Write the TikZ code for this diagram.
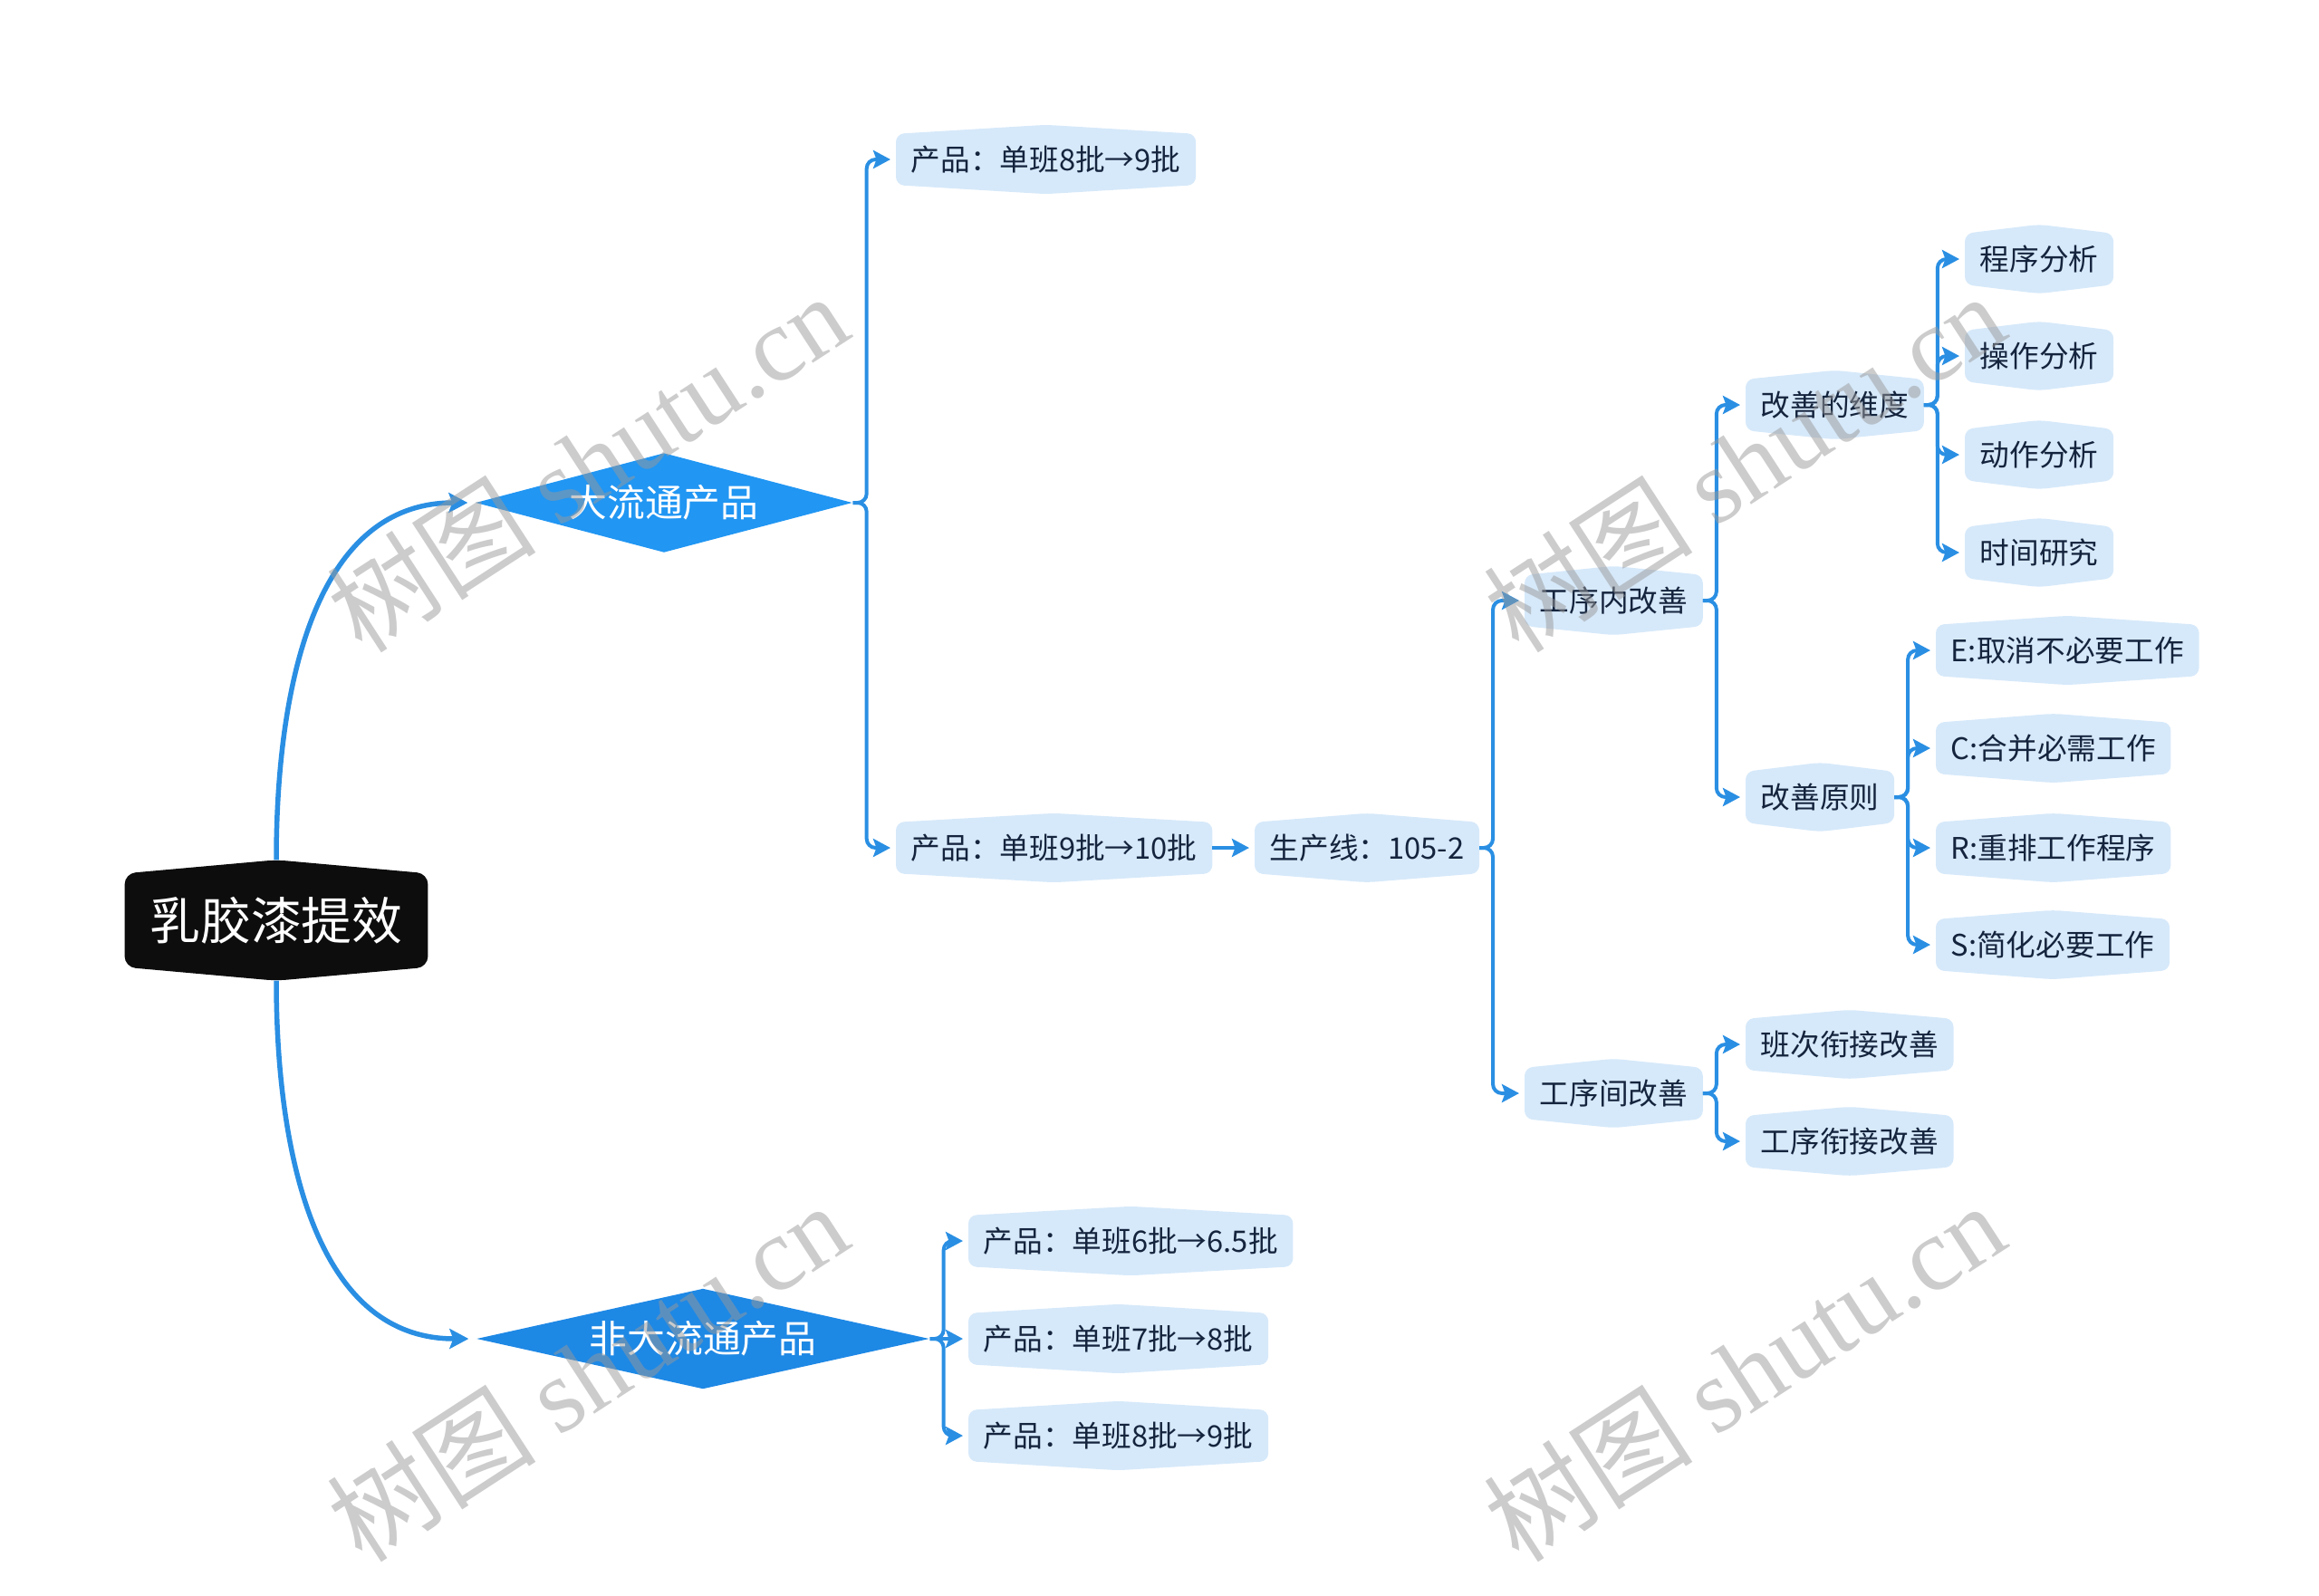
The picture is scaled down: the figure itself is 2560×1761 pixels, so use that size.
\documentclass[tikz,border=0pt]{standalone}
\usepackage{fontspec}
\setmainfont{Noto Sans CJK SC}
\newfontfamily\markfont{Liberation Serif}
\usetikzlibrary{arrows.meta,shapes.geometric,backgrounds}
\definecolor{branch}{HTML}{2A8FE3}
\definecolor{mainfill}{HTML}{2196F3}
\definecolor{mainfilltwo}{HTML}{1E88E5}
\definecolor{leaffill}{HTML}{D6E9FA}
\definecolor{leaftext}{HTML}{15243D}
\definecolor{rootfill}{HTML}{0D0D0D}

\begin{document}
\begin{tikzpicture}[x=0.1mm,y=-0.1mm,
    topic/.style={anchor=west,inner xsep=1.6mm,inner ysep=0pt,minimum height=5.5mm,text=leaftext,font=\fontsize{9.3pt}{11pt}\selectfont},
    kind/.style={diamond,inner sep=0pt,text=white,font=\fontsize{11.9pt}{14pt}\selectfont},
    conn/.style={draw=branch,line width=0.4mm,-{Stealth[length=1.9mm,width=2mm,inset=0.35mm,fill=branch]}},
    trunk/.style={draw=branch,line width=0.55mm,-{Stealth[length=2.1mm,width=2.2mm,inset=0.4mm,fill=branch]}},
    wmark/.style={rotate=33,text=black!40,text opacity=0.5,font=\fontsize{33pt}{37pt}\selectfont}]
\useasboundingbox (0,0) rectangle (2560,1761);

\node[text=white,inner xsep=2.7mm,inner ysep=0pt,minimum height=10.2mm,font=\fontsize{15.9pt}{19pt}\selectfont] (root) at (305,1016) {乳胶漆提效};
\node[kind,fill=mainfill,aspect=3.8,minimum width=41.6mm,minimum height=11mm] (d1) at (733,555) {大流通产品};
\node[kind,fill=mainfilltwo,aspect=4.5,minimum width=50mm,minimum height=11.1mm] (d2) at (776,1478) {非大流通产品};

\node[topic] (p1) at (989,176) {产品：单班8批→9批};
\node[topic] (p2) at (989,936) {产品：单班9批→10批};
\node[topic] (line) at (1385,936) {生产线：105-2};
\node[topic] (inside) at (1683,663) {工序内改善};
\node[topic] (between) at (1683,1207) {工序间改善};
\node[topic] (dims) at (1927,447) {改善的维度};
\node[topic] (rules) at (1927,880) {改善原则};
\node[topic] (m1) at (2169,286) {程序分析};
\node[topic] (m2) at (2169,393) {操作分析};
\node[topic] (m3) at (2169,502) {动作分析};
\node[topic] (m4) at (2169,610) {时间研究};
\node[topic] (pe) at (2137,718) {E:取消不必要工作};
\node[topic] (pc) at (2137,826) {C:合并必需工作};
\node[topic] (pr) at (2137,936) {R:重排工作程序};
\node[topic] (ps) at (2137,1043) {S:简化必要工作};
\node[topic] (shiftjoin) at (1927,1153) {班次衔接改善};
\node[topic] (stepjoin) at (1927,1260) {工序衔接改善};
\node[topic] (q1) at (1069,1370) {产品：单班6批→6.5批};
\node[topic] (q2) at (1069,1478) {产品：单班7批→8批};
\node[topic] (q3) at (1069,1585) {产品：单班8批→9批};

\begin{scope}[on background layer]
\foreach \n in {p1,p2,line,inside,between,dims,rules,m1,m2,m3,m4,pe,pc,pr,ps,shiftjoin,stepjoin,q1,q2,q3}
  \fill[leaffill,rounded corners=0.9mm] (\n.south west) -- (\n.north west) -- ([yshift=1mm]\n.north) -- (\n.north east) -- (\n.south east) -- ([yshift=-1mm]\n.south) -- cycle;
\fill[rootfill,rounded corners=1.2mm] (root.south west) -- (root.north west) -- ([yshift=1.5mm]root.north) -- (root.north east) -- (root.south east) -- ([yshift=-1.5mm]root.south) -- cycle;
\end{scope}

\draw[trunk] ([yshift=1.5mm]root.north) .. controls +(0,-175) and +(-175,0) .. ([xshift=-0.8mm]d1.west);
\draw[trunk] ([yshift=-1.5mm]root.south) .. controls +(0,175) and +(-175,0) .. ([xshift=-0.8mm]d2.west);

\foreach \a/\b in {d1/p1,d1/p2,line/inside,line/between,inside/dims,inside/rules,dims/m1,dims/m2,dims/m3,dims/m4,rules/pe,rules/pc,rules/pr,rules/ps,between/shiftjoin,between/stepjoin,d2/q1,d2/q3}
  \draw[conn] (\a.east) [rounded corners=1mm] -- ++(1.5mm,0) |- ([xshift=-0.6mm]\b.west) [sharp corners];
\draw[conn] (p2.east) -- ([xshift=-0.6mm]line.west);
\draw[conn] (d2.east) -- ([xshift=-0.6mm]q2.west);

\node[wmark] at (648,510) {树图 {\markfont shutu.cn}};
\node[wmark] at (1925,510) {树图 {\markfont shutu.cn}};
\node[wmark] at (648,1514) {树图 {\markfont shutu.cn}};
\node[wmark] at (1925,1514) {树图 {\markfont shutu.cn}};
\end{tikzpicture}
\end{document}
